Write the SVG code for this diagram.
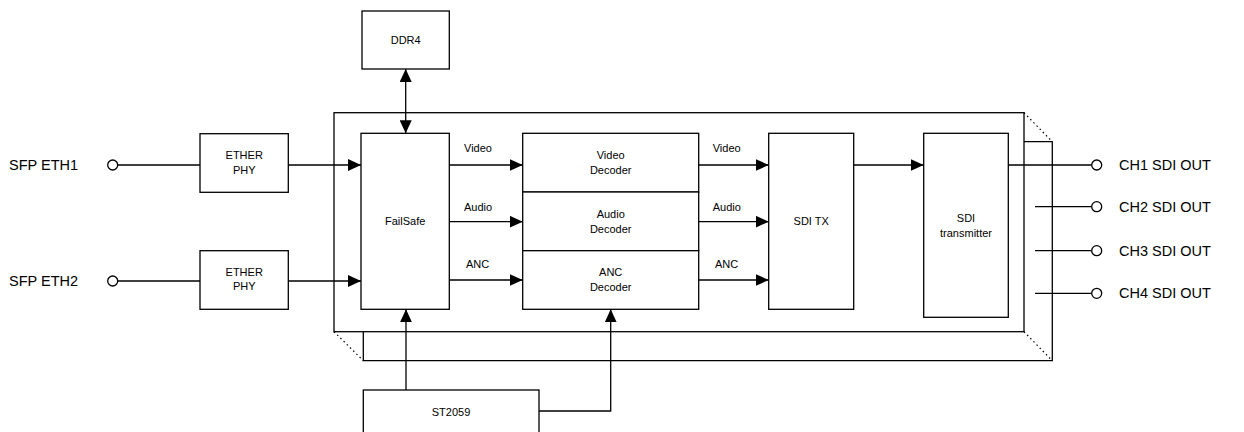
<svg xmlns="http://www.w3.org/2000/svg" width="1244" height="432" viewBox="0 0 1244 432">
<style>
.box{fill:#fff;stroke:#000;stroke-width:1.3}
.ln{fill:none;stroke:#000;stroke-width:1.3}
.dot{fill:none;stroke:#000;stroke-width:1.2;stroke-dasharray:1.5 3}
.t{font-family:"Liberation Sans",Arial,sans-serif;font-size:11px;fill:#000;text-anchor:middle}
.tl{font-family:"Liberation Sans",Arial,sans-serif;font-size:11px;fill:#000}
.big{font-family:"Liberation Sans",Arial,sans-serif;font-size:14.5px;fill:#000}
.port{fill:#fff;stroke:#000;stroke-width:1.3}
</style>
<defs>
<marker id="ah" markerUnits="userSpaceOnUse" markerWidth="13" markerHeight="12" refX="13" refY="6" orient="auto-start-reverse">
<path d="M0,0 L13,6 L0,12 z" fill="#000"/>
</marker>
</defs>
<rect width="1244" height="432" fill="#fff"/>
<g id="chassis">
<path class="ln" d="M1024,141.7 H1052.3 V360.7 H363.3 V331.7"/>
<line class="dot" x1="1024" y1="112.7" x2="1052.3" y2="141.7"/>
<line class="dot" x1="1024" y1="331.7" x2="1052.3" y2="360.7"/>
<line class="dot" x1="334" y1="331.7" x2="363.3" y2="360.7"/>
<rect class="ln" x="334" y="112.7" width="690" height="219"/>
</g>
<g id="connectors">
<line class="ln" x1="117.7" y1="165" x2="200" y2="165"/>
<line class="ln" x1="117.7" y1="281" x2="200" y2="281"/>
<line class="ln" x1="288.3" y1="165" x2="361" y2="165" marker-end="url(#ah)"/>
<line class="ln" x1="288.3" y1="281" x2="361" y2="281" marker-end="url(#ah)"/>
<line class="ln" x1="405.7" y1="69" x2="405.7" y2="133.3" marker-start="url(#ah)" marker-end="url(#ah)"/>
<line class="ln" x1="449.3" y1="165" x2="522.7" y2="165" marker-end="url(#ah)"/>
<line class="ln" x1="449.3" y1="221.7" x2="522.7" y2="221.7" marker-end="url(#ah)"/>
<line class="ln" x1="449.3" y1="280" x2="522.7" y2="280" marker-end="url(#ah)"/>
<line class="ln" x1="698.7" y1="165" x2="768.7" y2="165" marker-end="url(#ah)"/>
<line class="ln" x1="698.7" y1="221.7" x2="768.7" y2="221.7" marker-end="url(#ah)"/>
<line class="ln" x1="698.7" y1="280" x2="768.7" y2="280" marker-end="url(#ah)"/>
<line class="ln" x1="853.7" y1="165" x2="923.7" y2="165" marker-end="url(#ah)"/>
<line class="ln" x1="1008.3" y1="165" x2="1091.7" y2="165"/>
<line class="ln" x1="1035" y1="206.7" x2="1091.7" y2="206.7"/>
<line class="ln" x1="1035" y1="250.7" x2="1091.7" y2="250.7"/>
<line class="ln" x1="1035" y1="293.3" x2="1091.7" y2="293.3"/>
<line class="ln" x1="406" y1="390" x2="406" y2="309.3" marker-end="url(#ah)"/>
<path class="ln" d="M539,411 H610.7 V309.3" marker-end="url(#ah)"/>
<text class="tl" x="464" y="151.5">Video</text>
<text class="tl" x="464" y="210.5">Audio</text>
<text class="tl" x="466" y="268">ANC</text>
<text class="tl" x="712.7" y="151.5">Video</text>
<text class="tl" x="712.7" y="210.5">Audio</text>
<text class="tl" x="715" y="268">ANC</text>
</g>
<g id="sfp1">
<text class="big" x="9" y="169.5">SFP ETH1</text>
<circle class="port" cx="112.7" cy="165" r="5"/>
</g>
<g id="sfp2">
<text class="big" x="9" y="286">SFP ETH2</text>
<circle class="port" cx="112.7" cy="281" r="5"/>
</g>
<g id="phy1">
<rect class="box" x="200" y="133.7" width="88.3" height="58.6"/>
<text class="t" x="244.2" y="158.7">ETHER</text>
<text class="t" x="244.2" y="173.5">PHY</text>
</g>
<g id="phy2">
<rect class="box" x="200" y="250.7" width="88.3" height="58.6"/>
<text class="t" x="244.2" y="275.5">ETHER</text>
<text class="t" x="244.2" y="290.3">PHY</text>
</g>
<g id="ddr4">
<rect class="box" x="362" y="11" width="87.3" height="58"/>
<text class="t" x="405.7" y="44">DDR4</text>
</g>
<g id="failsafe">
<rect class="box" x="361" y="133.3" width="88.3" height="176"/>
<text class="t" x="405.2" y="225">FailSafe</text>
</g>
<g id="video-decoder">
<rect class="box" x="522.7" y="133.3" width="176" height="58.7"/>
<text class="t" x="610.7" y="159">Video</text>
<text class="t" x="610.7" y="174">Decoder</text>
</g>
<g id="audio-decoder">
<rect class="box" x="522.7" y="192" width="176" height="58.7"/>
<text class="t" x="610.7" y="217.7">Audio</text>
<text class="t" x="610.7" y="232.7">Decoder</text>
</g>
<g id="anc-decoder">
<rect class="box" x="522.7" y="250.7" width="176" height="58.6"/>
<text class="t" x="610.7" y="275.8">ANC</text>
<text class="t" x="610.7" y="290.8">Decoder</text>
</g>
<g id="sdi-tx">
<rect class="box" x="768.7" y="133.3" width="85" height="176"/>
<text class="t" x="811.2" y="225">SDI TX</text>
</g>
<g id="sdi-transmitter">
<rect class="box" x="923.7" y="133.3" width="84.6" height="184"/>
<text class="t" x="966" y="221.7">SDI</text>
<text class="t" x="966" y="237">transmitter</text>
</g>
<g id="ch1">
<circle class="port" cx="1096.7" cy="165" r="5"/>
<text class="big" x="1119" y="170">CH1 SDI OUT</text>
</g>
<g id="ch2">
<circle class="port" cx="1096.7" cy="206.7" r="5"/>
<text class="big" x="1119" y="211.7">CH2 SDI OUT</text>
</g>
<g id="ch3">
<circle class="port" cx="1096.7" cy="250.7" r="5"/>
<text class="big" x="1119" y="255.7">CH3 SDI OUT</text>
</g>
<g id="ch4">
<circle class="port" cx="1096.7" cy="293.3" r="5"/>
<text class="big" x="1119" y="298.3">CH4 SDI OUT</text>
</g>
<g id="st2059">
<rect class="box" x="363.3" y="390" width="175.7" height="50"/>
<text class="t" x="451" y="416">ST2059</text>
</g>
</svg>
